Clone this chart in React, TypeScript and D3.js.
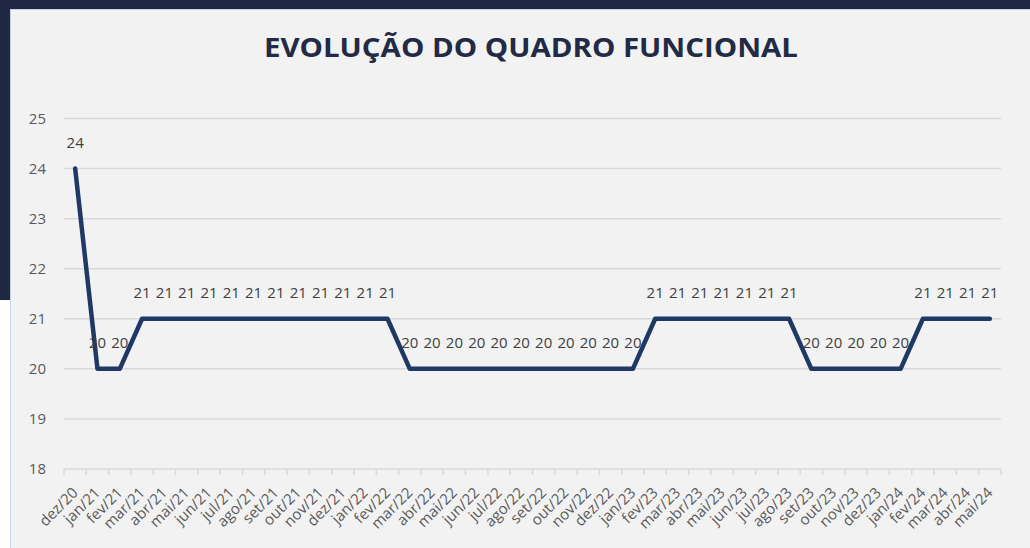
import React from 'react';
import * as d3 from 'd3';

const months = [
  'dez/20',
  'jan/21', 'fev/21', 'mar/21', 'abr/21', 'mai/21', 'jun/21', 'jul/21', 'ago/21', 'set/21', 'out/21', 'nov/21', 'dez/21',
  'jan/22', 'fev/22', 'mar/22', 'abr/22', 'mai/22', 'jun/22', 'jul/22', 'ago/22', 'set/22', 'out/22', 'nov/22', 'dez/22',
  'jan/23', 'fev/23', 'mar/23', 'abr/23', 'mai/23', 'jun/23', 'jul/23', 'ago/23', 'set/23', 'out/23', 'nov/23', 'dez/23',
  'jan/24', 'fev/24', 'mar/24', 'abr/24', 'mai/24',
];

const headcount = [
  24,
  20, 20, 21, 21, 21, 21, 21, 21, 21, 21, 21, 21,
  21, 21, 20, 20, 20, 20, 20, 20, 20, 20, 20, 20,
  20, 21, 21, 21, 21, 21, 21, 21, 20, 20, 20, 20,
  20, 21, 21, 21, 21,
];

const yTicks = [18, 19, 20, 21, 22, 23, 24, 25];

const W = 1030;
const H = 548;
const plot = { left: 64, right: 1001, top: 118.5, bottom: 469 };
const navy = '#1f2742';
const font = '"Open Sans", "DejaVu Sans", sans-serif';

export default function App() {
  const x = d3.scaleBand<string>().domain(months).range([plot.left, plot.right]);
  const y = d3.scaleLinear().domain([18, 25]).range([plot.bottom, plot.top]);
  const cx = (m: string) => (x(m) ?? 0) + x.bandwidth() / 2;

  const line = d3.line<number>()
    .x((_, i) => cx(months[i]))
    .y(d => y(d));

  const boundaries = months.map(m => x(m) ?? 0).concat([plot.right]);

  return (
    <svg width={W} height={H} style={{ position: 'absolute', left: 0, top: 0 }}>
      <rect x={0} y={0} width={W} height={H} fill={navy} />
      <rect x={0} y={300} width={11} height={H - 300} fill="#ffffff" />
      <rect x={10.5} y={9.5} width={W - 10} height={H - 9} fill="#f2f2f2" stroke="#c5d3ea" strokeWidth={1} />

      <text x={531} y={57} textAnchor="middle" fill="#222a45" fontFamily={font}
        fontWeight="bold" fontSize={26} textLength={534} lengthAdjust="spacingAndGlyphs">
        EVOLUÇÃO DO QUADRO FUNCIONAL
      </text>

      {yTicks.map(t => (
        <g key={t}>
          <line x1={plot.left} x2={plot.right} y1={y(t)} y2={y(t)} stroke="#d9d9d9" strokeWidth={1.5} />
          <text x={46} y={y(t)} dy="0.35em" textAnchor="end" fill="#595959" fontFamily={font} fontSize={15}>
            {t}
          </text>
        </g>
      ))}

      {boundaries.map((bx, i) => (
        <line key={i} x1={bx} x2={bx} y1={plot.bottom} y2={plot.bottom + 6} stroke="#d9d9d9" strokeWidth={1.5} />
      ))}

      {months.map(m => (
        <text key={m} transform={`translate(${cx(m)},${plot.bottom + 21}) rotate(-45)`}
          textAnchor="end" dy="0.35em" fill="#595959" fontFamily={font} fontSize={15}>
          {m}
        </text>
      ))}

      <path d={line(headcount) ?? ''} fill="none" stroke="#1f3864" strokeWidth={4.5} strokeLinejoin="round" strokeLinecap="round" />

      {headcount.map((v, i) => (
        <text key={i} x={cx(months[i])} y={y(v) - 26} dy="0.35em" textAnchor="middle"
          fill="#404040" fontFamily={font} fontSize={15}>
          {v}
        </text>
      ))}
    </svg>
  );
}
